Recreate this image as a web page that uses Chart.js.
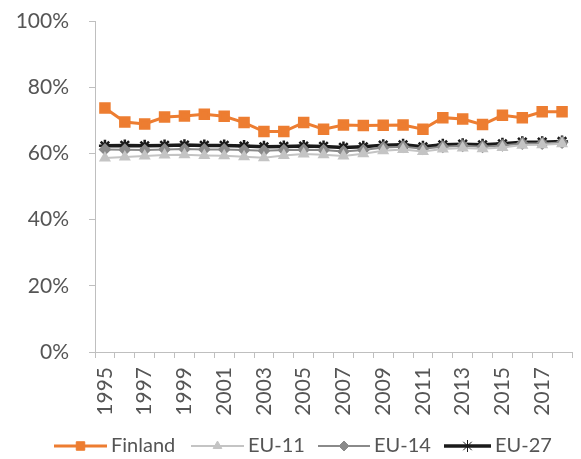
<!DOCTYPE html>
<html>
<head>
<meta charset="utf-8">
<script src="https://cdn.jsdelivr.net/npm/chart.js@4/dist/chart.umd.min.js"></script>
<style>
  html, body { margin: 0; padding: 0; background: #fff; }
  #wrap { width: 581px; height: 459px; }
</style>
</head>
<body>
<div id="wrap"><canvas id="myChart" width="581" height="459"></canvas></div>
<script>
const years = ['1995','1996','1997','1998','1999','2000','2001','2002','2003','2004','2005','2006',
               '2007','2008','2009','2010','2011','2012','2013','2014','2015','2016','2017','2018'];
const finland = [73.7,69.5,68.9,71.0,71.3,71.8,71.2,69.3,66.6,66.6,69.3,67.3,
                 68.6,68.4,68.5,68.6,67.3,70.8,70.4,68.7,71.5,70.8,72.6,72.6];
const eu11 = [58.6,58.9,59.2,59.5,59.6,59.4,59.3,59.0,58.7,59.4,59.8,59.6,
              59.2,59.9,60.8,61.2,60.6,61.3,61.6,61.4,61.8,62.5,62.6,62.9];
const eu14 = [61.2,61.1,61.0,61.2,61.3,61.2,61.2,61.0,60.8,61.0,61.1,61.0,
              60.6,61.0,61.8,62.0,61.4,62.0,62.3,62.0,62.4,63.0,63.0,63.3];
const eu27 = [62.3,62.4,62.3,62.4,62.5,62.4,62.4,62.2,62.0,62.1,62.2,62.1,
              61.8,62.0,62.5,62.6,62.0,62.6,62.8,62.6,62.9,63.4,63.4,63.6];
const yTicks = [0, 20, 40, 60, 80, 100];

const textColor = '#555555';
const fontFamily = 'Lato, "Liberation Sans", sans-serif';

// Excel style legend: short line with marker in the middle, then the label
const bottomLegend = {
    id: 'bottomLegend',
    afterDraw(chart) {
        const ctx = chart.ctx;
        const y = 446;
        const items = [
            { x: 54, w: 53, text: 'Finland' },
            { x: 191, w: 53, text: 'EU-11' },
            { x: 318, w: 52, text: 'EU-14' },
            { x: 444, w: 47, text: 'EU-27' }
        ];
        ctx.save();
        ctx.font = '20px ' + fontFamily;
        ctx.textBaseline = 'middle';
        items.forEach(function (it, i) {
            const ds = chart.data.datasets[i];
            ctx.strokeStyle = ds.borderColor;
            ctx.fillStyle = ds.borderColor;
            ctx.lineWidth = ds.borderWidth;
            ctx.beginPath();
            ctx.moveTo(it.x, y);
            ctx.lineTo(it.x + it.w, y);
            ctx.stroke();
            ctx.lineWidth = 1;
            Chart.helpers.drawPoint(ctx, {
                pointStyle: ds.pointStyle,
                radius: ds.pointRadius,
                borderWidth: ds.pointStyle === 'star' ? 2 : 1
            }, it.x + it.w / 2, y);
            ctx.fillStyle = textColor;
            ctx.fillText(it.text, it.x + it.w + 4, y);
        });
        ctx.restore();
    }
};

document.addEventListener('DOMContentLoaded', function () {
    const ctx = document.getElementById('myChart').getContext('2d');
    const chartData = {
        labels: years,
        datasets: [
            {
                label: 'Finland',
                data: finland,
                borderColor: '#ED7D31',
                backgroundColor: '#ED7D31',
                pointBackgroundColor: '#ED7D31',
                pointBorderColor: '#ED7D31',
                borderWidth: 3,
                pointStyle: 'rect',
                pointRadius: 6
            },
            {
                label: 'EU-11',
                data: eu11,
                borderColor: '#C4C4C4',
                backgroundColor: '#C4C4C4',
                pointBackgroundColor: '#C4C4C4',
                pointBorderColor: '#C4C4C4',
                borderWidth: 2,
                pointStyle: 'triangle',
                pointRadius: 5
            },
            {
                label: 'EU-14',
                data: eu14,
                borderColor: '#8A8A8A',
                backgroundColor: '#8A8A8A',
                pointBackgroundColor: '#8A8A8A',
                pointBorderColor: '#8A8A8A',
                borderWidth: 2,
                pointStyle: 'rectRot',
                pointRadius: 5
            },
            {
                label: 'EU-27',
                data: eu27,
                borderColor: '#1a1a1a',
                backgroundColor: '#1a1a1a',
                pointBackgroundColor: '#1a1a1a',
                pointBorderColor: '#1a1a1a',
                borderWidth: 3.5,
                pointBorderWidth: 2.5,
                pointStyle: 'star',
                pointRadius: 6
            }
        ]
    };
    const config = {
        type: 'line',
        data: chartData,
        plugins: [bottomLegend],
        options: {
            responsive: false,
            animation: false,
            layout: { padding: { left: 0, right: 3, top: 21, bottom: 29 } },
            plugins: {
                legend: { display: false },
                tooltip: { enabled: false }
            },
            scales: {
                x: {
                    offset: true,
                    afterFit: function (s) {
                        s.height = 78;
                        s.paddingLeft = 0;
                        s.paddingRight = 0;
                    },
                    grid: {
                        display: true,
                        offset: true,
                        drawOnChartArea: false,
                        drawTicks: true,
                        tickLength: 6,
                        color: '#BFBFBF'
                    },
                    border: { color: '#BFBFBF', width: 1 },
                    ticks: {
                        autoSkip: false,
                        maxRotation: 90,
                        minRotation: 90,
                        padding: 9,
                        color: textColor,
                        font: { family: fontFamily, size: 21 },
                        callback: function (v, i) { return i % 2 === 0 ? years[i] : ''; }
                    }
                },
                y: {
                    min: 0,
                    max: 100,
                    afterFit: function (s) {
                        s.width = 95;
                        s.paddingTop = 0;
                        s.paddingBottom = 0;
                    },
                    afterBuildTicks: function (s) { s.ticks = yTicks.map(v => ({ value: v })); },
                    grid: {
                        display: true,
                        drawOnChartArea: false,
                        drawTicks: true,
                        tickLength: 6,
                        color: '#BFBFBF'
                    },
                    border: { color: '#BFBFBF', width: 1 },
                    ticks: {
                        padding: 20,
                        color: textColor,
                        font: { family: fontFamily, size: 21 },
                        callback: function (v) { return v + '%'; }
                    }
                }
            }
        }
    };
    const myChart = new Chart(ctx, config);
});
</script>
</body>
</html>
